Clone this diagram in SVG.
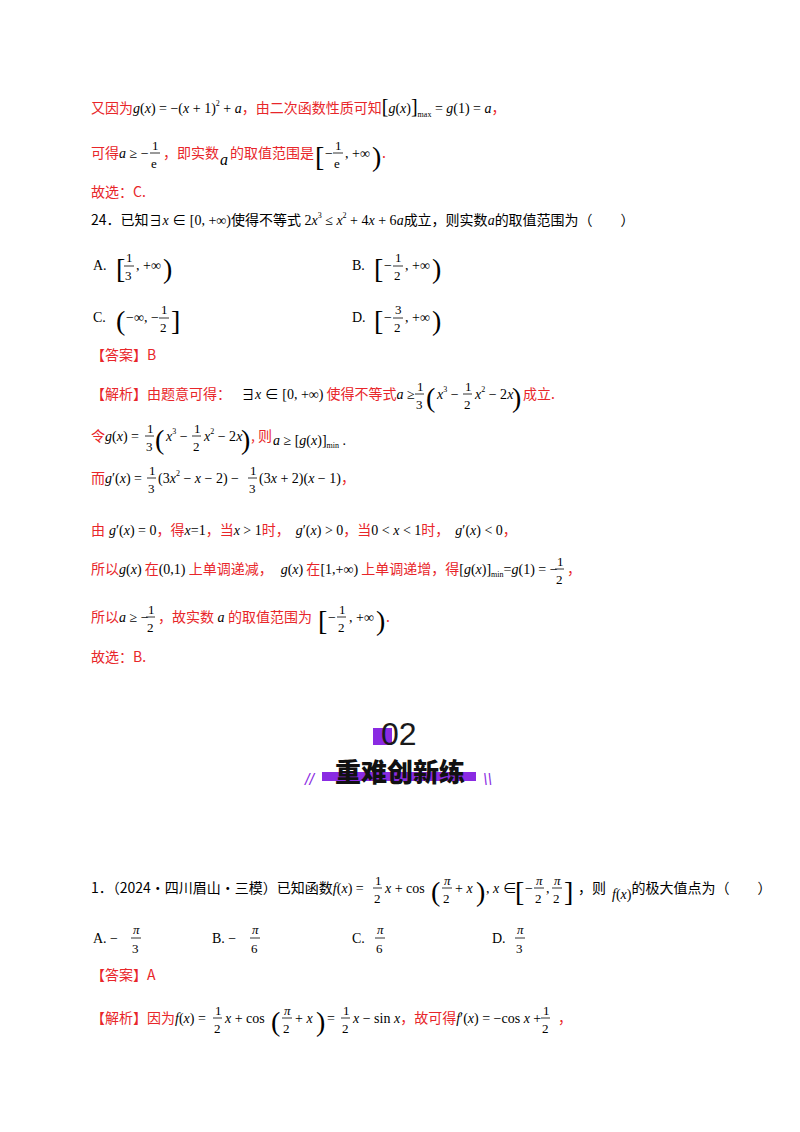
<svg xmlns="http://www.w3.org/2000/svg" width="800" height="1132" viewBox="0 0 800 1132">
<style>
text{font-family:"Liberation Serif","Noto Sans CJK SC",serif;font-size:14px;fill:#000}
.r{fill:#e8262a;font-family:"Noto Sans CJK SC",sans-serif}
.k{fill:#000;font-family:"Noto Sans CJK SC",sans-serif}
.i{font-style:italic}
.f{font-size:13px}
.s{font-size:8px}
.B{font-size:28px}
.m{font-size:20px}
line{stroke:#000;stroke-width:0.8}
</style>
<rect width="800" height="1132" fill="#fff"/>
<g id="p1">
<text x="91" y="113"><tspan class="r">又因为</tspan><tspan class="i">g</tspan>(<tspan class="i">x</tspan>) = −(<tspan class="i">x</tspan> + 1)<tspan dy="-7" class="s">2</tspan><tspan dy="7"> + </tspan><tspan class="i">a</tspan><tspan class="r">，由二次函数性质可知</tspan><tspan class="m">[</tspan><tspan class="i">g</tspan>(<tspan class="i">x</tspan>)<tspan class="m">]</tspan><tspan class="s" dy="4">max</tspan><tspan dy="-4"> = </tspan><tspan class="i">g</tspan>(1) = <tspan class="i">a</tspan><tspan class="r">，</tspan></text>
<text x="91" y="158"><tspan class="r">可得</tspan><tspan class="i">a</tspan> ≥ −</text>
<text x="152" y="150" class="f">1</text><line x1="150" y1="153" x2="160" y2="153"/><text x="151" y="168" class="f">e</text>
<text x="163" y="158" class="r">，即实数</text><text x="220" y="165" class="i" style="font-size:16px">a</text><text x="230" y="158" class="r">的取值范围是</text>
<text x="315" y="166" class="B">[</text><text x="325" y="158">−</text><text x="335" y="150" class="f">1</text><line x1="333" y1="153" x2="343" y2="153"/><text x="334" y="168" class="f">e</text><text x="345" y="158">, +∞</text><text x="372" y="166" class="B">)</text><text x="382" y="158" class="r">.</text>
<text x="91" y="197" class="r">故选：C.</text>
</g>
<g id="q24">
<text x="91" y="225"><tspan class="k">24．已知</tspan>∃<tspan class="i">x</tspan> ∈ [0, +∞)<tspan class="k">使得不等式</tspan> 2<tspan class="i">x</tspan><tspan class="s" dy="-7">3</tspan><tspan dy="7"> ≤ </tspan><tspan class="i">x</tspan><tspan class="s" dy="-7">2</tspan><tspan dy="7"> + 4</tspan><tspan class="i">x</tspan> + 6<tspan class="i">a</tspan><tspan class="k">成立，则实数</tspan><tspan class="i">a</tspan><tspan class="k">的取值范围为（　　）</tspan></text>
<text x="93" y="270">A.</text><text x="116" y="278" class="B">[</text><text x="126" y="262" class="f">1</text><line x1="124" y1="266" x2="134" y2="266"/><text x="125" y="280" class="f">3</text><text x="136" y="270">, +∞</text><text x="163" y="278" class="B">)</text>
<text x="352" y="270">B.</text><text x="374" y="278" class="B">[</text><text x="384" y="270">−</text><text x="395" y="262" class="f">1</text><line x1="393" y1="266" x2="403" y2="266"/><text x="394" y="280" class="f">2</text><text x="405" y="270">, +∞</text><text x="432" y="278" class="B">)</text>
<text x="93" y="322">C.</text><text x="116" y="330" class="B">(</text><text x="126" y="322">−∞, −</text><text x="161" y="314" class="f">1</text><line x1="159" y1="318" x2="169" y2="318"/><text x="160" y="332" class="f">2</text><text x="171" y="330" class="B">]</text>
<text x="352" y="322">D.</text><text x="374" y="330" class="B">[</text><text x="384" y="322">−</text><text x="395" y="314" class="f">3</text><line x1="393" y1="318" x2="403" y2="318"/><text x="394" y="332" class="f">2</text><text x="405" y="322">, +∞</text><text x="432" y="330" class="B">)</text>
<text x="91" y="360" class="r">【答案】B</text>
<text x="91" y="399"><tspan class="r">【解析】由题意可得：</tspan><tspan dx="10">∃</tspan><tspan class="i">x</tspan> ∈ [0, +∞)<tspan class="r"> 使得不等式</tspan><tspan class="i">a</tspan> ≥</text>
<text x="417" y="391" class="f">1</text><line x1="415" y1="394" x2="424" y2="394"/><text x="416" y="409" class="f">3</text><text x="426" y="407" class="B">(</text><text x="437" y="399"><tspan class="i">x</tspan><tspan class="s" dy="-7">3</tspan><tspan dy="7"> −</tspan></text><text x="465" y="391" class="f">1</text><line x1="463" y1="394" x2="472" y2="394"/><text x="464" y="409" class="f">2</text><text x="475" y="399"><tspan class="i">x</tspan><tspan class="s" dy="-7">2</tspan><tspan dy="7"> − 2</tspan><tspan class="i">x</tspan></text><text x="512" y="407" class="B">)</text><text x="523" y="399" class="r">成立.</text>
<text x="91" y="441"><tspan class="r">令</tspan><tspan class="i">g</tspan>(<tspan class="i">x</tspan>) =</text>
<text x="147" y="433" class="f">1</text><line x1="145" y1="436" x2="154" y2="436"/><text x="146" y="451" class="f">3</text><text x="155" y="449" class="B">(</text><text x="166" y="441"><tspan class="i">x</tspan><tspan class="s" dy="-7">3</tspan><tspan dy="7"> −</tspan></text><text x="194" y="433" class="f">1</text><line x1="192" y1="436" x2="201" y2="436"/><text x="193" y="451" class="f">2</text><text x="204" y="441"><tspan class="i">x</tspan><tspan class="s" dy="-7">2</tspan><tspan dy="7"> − 2</tspan><tspan class="i">x</tspan></text><text x="241" y="449" class="B">)</text><text x="251" y="441" class="r">, 则</text><text x="273" y="445"><tspan class="i">a</tspan> ≥ [<tspan class="i">g</tspan>(<tspan class="i">x</tspan>)]<tspan class="s" dy="3">min</tspan><tspan dy="-3"> .</tspan></text>
<text x="91" y="483"><tspan class="r">而</tspan><tspan class="i">g</tspan>′(<tspan class="i">x</tspan>) =</text>
<text x="149" y="475" class="f">1</text><line x1="147" y1="478" x2="156" y2="478"/><text x="148" y="493" class="f">3</text><text x="158" y="483">(3<tspan class="i">x</tspan><tspan class="s" dy="-7">2</tspan><tspan dy="7"> − </tspan><tspan class="i">x</tspan> − 2) −</text><text x="250" y="475" class="f">1</text><line x1="248" y1="478" x2="257" y2="478"/><text x="249" y="493" class="f">3</text><text x="259" y="483">(3<tspan class="i">x</tspan> + 2)(<tspan class="i">x</tspan> − 1)<tspan class="r">，</tspan></text>
<text x="91" y="535"><tspan class="r">由</tspan><tspan class="i" dx="4">g</tspan>′(<tspan class="i">x</tspan>) = 0<tspan class="r">，得</tspan><tspan class="i">x</tspan>=1<tspan class="r">，当</tspan><tspan class="i">x</tspan> &gt; 1<tspan class="r">时，</tspan><tspan dx="6" class="i">g</tspan>′(<tspan class="i">x</tspan>) &gt; 0<tspan class="r">，当</tspan>0 &lt; <tspan class="i">x</tspan> &lt; 1<tspan class="r">时，</tspan><tspan dx="6" class="i">g</tspan>′(<tspan class="i">x</tspan>) &lt; 0<tspan class="r">，</tspan></text>
<text x="91" y="574"><tspan class="r">所以</tspan><tspan class="i">g</tspan>(<tspan class="i">x</tspan>)<tspan class="r"> 在</tspan>(0,1)<tspan class="r"> 上单调递减，</tspan><tspan dx="8" class="i">g</tspan>(<tspan class="i">x</tspan>)<tspan class="r"> 在</tspan>[1,+∞)<tspan class="r"> 上单调递增，得</tspan>[<tspan class="i">g</tspan>(<tspan class="i">x</tspan>)]<tspan class="s" dy="3">min</tspan><tspan dy="-3">=</tspan><tspan class="i">g</tspan>(1) = −</text>
<text x="557" y="566" class="f">1</text><line x1="555" y1="569" x2="564" y2="569"/><text x="556" y="584" class="f">2</text><text x="567" y="574" class="r">，</text>
<text x="91" y="622"><tspan class="r">所以</tspan><tspan class="i">a</tspan> ≥ −</text>
<text x="148" y="614" class="f">1</text><line x1="146" y1="617" x2="155" y2="617"/><text x="147" y="632" class="f">2</text>
<text x="158" y="622"><tspan class="r">，故实数</tspan><tspan class="i"> a </tspan><tspan class="r">的取值范围为</tspan></text>
<text x="318" y="630" class="B">[</text><text x="328" y="622">−</text><text x="339" y="614" class="f">1</text><line x1="337" y1="617" x2="346" y2="617"/><text x="338" y="632" class="f">2</text><text x="349" y="622">, +∞</text><text x="376" y="630" class="B">)</text><text x="386" y="622" class="r">.</text>
<text x="91" y="662" class="r">故选：B.</text>
</g>
<g id="banner">
<rect x="373" y="728" width="19" height="17" fill="#8a2be2"/>
<text x="381" y="745" style="font-family:'Liberation Sans',sans-serif;font-size:32px;fill:#1a1a1a">02</text>
<rect x="322" y="772" width="154" height="9" fill="#8a2be2"/>
<text x="400" y="782" text-anchor="middle" style="font-family:'Noto Sans CJK SC',sans-serif;font-weight:900;font-size:26px;fill:#111">重难创新练</text>
<text x="305" y="785" style="font-family:'Liberation Sans',sans-serif;font-size:16px;fill:#8a2be2;font-style:italic">//</text>
<text x="483" y="785" style="font-family:'Liberation Sans',sans-serif;font-size:16px;fill:#8a2be2;font-style:italic">\\</text>
</g>
<g id="q1">
<text x="91" y="893"><tspan class="k">1．（2024·四川眉山·三模）已知函数</tspan><tspan class="i">f</tspan>(<tspan class="i">x</tspan>) =</text>
<text x="375" y="885" class="f">1</text><line x1="373" y1="888" x2="382" y2="888"/><text x="374" y="903" class="f">2</text><text x="385" y="893"><tspan class="i">x</tspan> + cos</text><text x="431" y="901" class="B">(</text><text x="444" y="885" class="f i">π</text><line x1="442" y1="888" x2="452" y2="888"/><text x="443" y="903" class="f">2</text><text x="455" y="893">+ <tspan class="i">x</tspan></text><text x="476" y="901" class="B">)</text><text x="486" y="893">, <tspan class="i">x</tspan> ∈</text><text x="515" y="901" class="B">[</text><text x="525" y="893">−</text><text x="536" y="885" class="f i">π</text><line x1="534" y1="888" x2="544" y2="888"/><text x="535" y="903" class="f">2</text><text x="546" y="893">,</text><text x="554" y="885" class="f i">π</text><line x1="552" y1="888" x2="562" y2="888"/><text x="553" y="903" class="f">2</text><text x="564" y="901" class="B">]</text><text x="578" y="893"><tspan class="k">，则</tspan><tspan dx="6" class="i" dy="6">f</tspan>(<tspan class="i">x</tspan>)<tspan dy="-6" class="k">的极大值点为（　　）</tspan></text>
<text x="93" y="943">A.  −</text><text x="133" y="934" class="f i">π</text><line x1="131" y1="938" x2="141" y2="938"/><text x="132" y="953" class="f">3</text>
<text x="212" y="943">B.  −</text><text x="252" y="934" class="f i">π</text><line x1="250" y1="938" x2="260" y2="938"/><text x="251" y="953" class="f">6</text>
<text x="352" y="943">C.</text><text x="377" y="934" class="f i">π</text><line x1="375" y1="938" x2="385" y2="938"/><text x="376" y="953" class="f">6</text>
<text x="492" y="943">D.</text><text x="517" y="934" class="f i">π</text><line x1="515" y1="938" x2="525" y2="938"/><text x="516" y="953" class="f">3</text>
<text x="91" y="980" class="r">【答案】A</text>
<text x="91" y="1023"><tspan class="r">【解析】因为</tspan><tspan class="i">f</tspan>(<tspan class="i">x</tspan>) =</text>
<text x="215" y="1015" class="f">1</text><line x1="213" y1="1018" x2="222" y2="1018"/><text x="214" y="1033" class="f">2</text><text x="225" y="1023"><tspan class="i">x</tspan> + cos</text><text x="271" y="1031" class="B">(</text><text x="284" y="1015" class="f i">π</text><line x1="282" y1="1018" x2="292" y2="1018"/><text x="283" y="1033" class="f">2</text><text x="295" y="1023">+ <tspan class="i">x</tspan></text><text x="316" y="1031" class="B">)</text><text x="327" y="1023">=</text><text x="343" y="1015" class="f">1</text><line x1="341" y1="1018" x2="350" y2="1018"/><text x="342" y="1033" class="f">2</text><text x="353" y="1023"><tspan class="i">x</tspan> − sin<tspan class="i"> x</tspan><tspan class="r">，故可得</tspan><tspan class="i">f</tspan>′(<tspan class="i">x</tspan>) = −cos<tspan class="i"> x</tspan> +</text>
<text x="543" y="1015" class="f">1</text><line x1="541" y1="1018" x2="550" y2="1018"/><text x="542" y="1033" class="f">2</text><text x="558" y="1023" class="r">，</text>
</g>
</svg>
